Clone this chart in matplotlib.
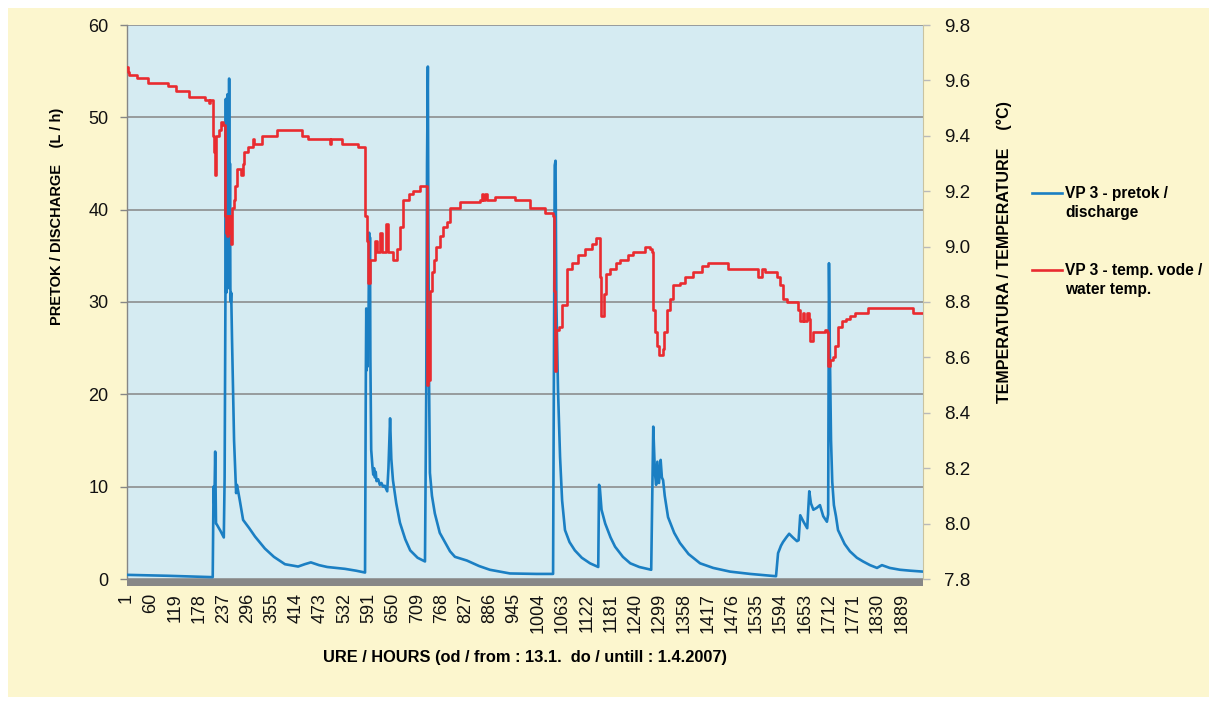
import matplotlib
matplotlib.use("Agg")
import matplotlib.pyplot as plt
from matplotlib.patches import Rectangle
from matplotlib.lines import Line2D

plt.rcParams['font.family'] = ['Liberation Sans', 'DejaVu Sans']

# discharge (L/h) as (hour, value) pairs
q_hours = [1, 100, 211, 213, 215, 217, 219, 221, 230, 238, 240, 242, 243, 244, 245,
           246, 247, 248, 249, 250, 251, 252, 253, 254, 255, 256, 258, 263, 268, 270,
           273, 277, 285, 300, 314, 338, 360, 387, 419, 435, 450, 470, 490, 533, 560,
           582, 584, 585, 586, 587, 588, 589, 590, 592, 593, 594, 595, 597, 600, 602,
           604, 606, 608, 610, 614, 618, 622, 626, 630, 636, 639, 643, 646, 650, 658,
           667, 680, 692, 710, 728, 731, 733, 735, 736, 738, 740, 745, 752, 764, 789,
           801, 830, 860, 886, 935, 1000, 1040, 1042, 1044, 1046, 1048, 1052, 1057, 1062,
           1069, 1080, 1093, 1110, 1130, 1150, 1152, 1154, 1158, 1167, 1180, 1191, 1210,
           1228, 1250, 1279, 1284, 1288, 1291, 1294, 1298, 1302, 1305, 1308, 1312, 1320,
           1335, 1349, 1370, 1398, 1430, 1471, 1520, 1583, 1588, 1595, 1600, 1608, 1615,
           1624, 1634, 1638, 1642, 1650, 1659, 1664, 1668, 1674, 1682, 1690, 1698, 1707,
           1710, 1712, 1714, 1717, 1720, 1724, 1729, 1734, 1750, 1763, 1780, 1795, 1812,
           1829, 1841, 1860, 1885, 1910, 1941]
q_values = [0.45, 0.35, 0.2, 10, 8, 13.8, 6.0, 5.9, 5.2, 4.5, 11, 31, 52, 31, 51,
            33, 52.5, 31.5, 50, 33, 54.2, 31.5, 45, 31.5, 30, 31, 26, 15, 9.3, 10.2,
            9.5, 8.5, 6.4, 5.5, 4.6, 3.3, 2.4, 1.6, 1.35, 1.6, 1.8, 1.5, 1.3, 1.1, 0.9,
            0.7, 22.6, 29.3, 22.6, 29, 23, 29, 25, 37.5, 31, 37, 24, 14, 12.2, 11.3,
            12.0, 11.0, 11.6, 10.6, 10.8, 10.2, 10.4, 10.0, 10.1, 9.5, 12, 17.4, 13, 10.7, 8.2,
            6.1, 4.3, 3.1, 2.3, 1.9, 20, 45, 55.5, 42, 21, 11.5, 9, 7.1, 5.0, 3.0,
            2.4, 2.0, 1.4, 1.0, 0.6, 0.55, 0.55, 22, 44.8, 45.3, 30, 20.5, 13.2, 8.5,
            5.3, 4.0, 3.1, 2.3, 1.7, 1.3, 10.2, 9.8, 7.5, 6.0, 4.5, 3.5, 2.4,
            1.7, 1.3, 1.0, 16.5, 11.5, 10.2, 12.7, 10.4, 12.9, 11, 10.7, 9, 6.7,
            5.0, 3.9, 2.7, 1.7, 1.2, 0.8, 0.55, 0.3, 2.8, 3.6, 4.0, 4.5, 4.9,
            4.5, 4.1, 4.2, 6.9, 6.2, 5.5, 9.5, 8.2, 7.5, 7.7, 8.0, 6.8, 6.2,
            7.0, 34.2, 25, 15, 10.5, 8.0, 6.8, 5.3, 3.8, 3.0, 2.3, 1.9, 1.5,
            1.2, 1.5, 1.2, 1.0, 0.9, 0.8]

# water temperature (deg C)
t_hours = [1, 4, 8, 27, 53, 102, 122, 153, 192, 202, 205, 211, 212, 214, 216, 218, 220,
           226, 232, 236, 240, 242, 244, 245, 247, 249, 251, 253, 255, 257, 262, 266,
           270, 280, 284, 288, 298, 308, 312, 330, 368, 428, 442, 496, 499, 525, 566,
           582, 586, 589, 594, 598, 606, 611, 618, 623, 632, 639, 649, 659, 667, 675,
           690, 700, 716, 732, 733, 734, 736, 738, 740, 745, 750, 755, 765, 773, 781,
           789, 813, 862, 866, 869, 875, 880, 899, 947, 984, 1020, 1041, 1042, 1044,
           1046, 1049, 1055, 1061, 1073, 1086, 1101, 1118, 1135, 1145, 1150, 1154, 1157,
           1163, 1169, 1179, 1193, 1203, 1223, 1235, 1264, 1275, 1280, 1284, 1288, 1293,
           1298, 1307, 1310, 1317, 1325, 1333, 1350, 1362, 1382, 1402, 1418, 1463, 1467,
           1528, 1540, 1548, 1556, 1577, 1585, 1593, 1600, 1609, 1625, 1637, 1642, 1648,
           1652, 1658, 1664, 1666, 1673, 1703, 1707, 1710, 1715, 1723, 1727, 1735, 1743,
           1753, 1763, 1775, 1808, 1914, 1917, 1941]
t_values = [9.65, 9.63, 9.62, 9.61, 9.59, 9.58, 9.56, 9.54, 9.53, 9.52, 9.53, 9.53, 9.40,
            9.34, 9.26, 9.34, 9.40, 9.42, 9.45, 9.44, 9.33, 9.11, 9.05, 9.11, 9.04, 9.11,
            9.05, 9.11, 9.01, 9.14, 9.17, 9.22, 9.28, 9.26, 9.30, 9.34, 9.36, 9.39, 9.37,
            9.40, 9.42, 9.40, 9.39, 9.37, 9.39, 9.37, 9.36, 9.11, 9.02, 8.87, 8.95, 8.95,
            9.02, 8.98, 9.05, 8.98, 9.08, 8.98, 8.95, 8.99, 9.07, 9.17, 9.19, 9.20, 9.22,
            9.22, 8.73, 8.50, 8.70, 8.52, 8.84, 8.91, 8.95, 9.00, 9.04, 9.07, 9.09, 9.14,
            9.16, 9.17, 9.19, 9.17, 9.19, 9.17, 9.18, 9.17, 9.14, 9.12, 9.11, 8.84, 8.55,
            8.70, 8.70, 8.71, 8.79, 8.92, 8.94, 8.97, 8.99, 9.01, 9.03, 9.03, 8.89, 8.75,
            8.83, 8.90, 8.92, 8.94, 8.95, 8.97, 8.98, 9.00, 8.99, 8.98, 8.77, 8.69, 8.64,
            8.61, 8.63, 8.69, 8.77, 8.81, 8.86, 8.87, 8.89, 8.91, 8.93, 8.94, 8.94, 8.92,
            8.92, 8.89, 8.92, 8.91, 8.91, 8.89, 8.86, 8.81, 8.80, 8.80, 8.77, 8.73, 8.76,
            8.73, 8.76, 8.74, 8.66, 8.69, 8.70, 8.69, 8.57, 8.59, 8.60, 8.64, 8.71, 8.73,
            8.74, 8.75, 8.76, 8.78, 8.78, 8.76, 8.76]

x_ticks = list(range(1, 1890, 59))
n_hours = 1941

blue = '#1B7FC3'
red = '#E92B30'
grid_col = '#868686'

fig = plt.figure(figsize=(12.17, 7.05), dpi=100, facecolor='white')
fig.patches.append(Rectangle((8 / 1217, 8 / 705), 1201 / 1217, 689 / 705,
                             transform=fig.transFigure, facecolor='#FCF6CE',
                             edgecolor='none', zorder=-10))

L, R, B, T = 126.5 / 1217, 923 / 1217, 1 - 579 / 705, 1 - 25 / 705
ax = fig.add_axes([L, B, R - L, T - B])
ax.set_facecolor('#D5EBF2')
# thick grey floor under the plot
fig.patches.append(Rectangle((L, B - 7 / 705), R - L, 7 / 705, transform=fig.transFigure,
                             facecolor='#878787', edgecolor='none', zorder=5))

ax.plot(q_hours, q_values, color=blue, lw=1.9, zorder=3, solid_joinstyle='round')
ax.set_xlim(1, n_hours)
ax.set_ylim(0, 60)
ax.set_yticks(range(0, 61, 10))
ax.set_xticks(x_ticks)
ax.set_xticklabels([str(t) for t in x_ticks], rotation=90, fontsize=13)
ax.tick_params(axis='x', length=0, pad=10, colors='#111111')
ax.tick_params(axis='y', length=5, width=1, color=grid_col, pad=8, labelsize=13,
               labelcolor='#111111')
ax.grid(axis='y', color=grid_col, lw=1.1)
ax.set_axisbelow(True)
for s in ['top', 'right', 'bottom']:
    ax.spines[s].set_visible(False)
ax.spines['left'].set_color(grid_col)
ax.spines['left'].set_linewidth(1.0)

ax2 = ax.twinx()
ax2.plot(t_hours, t_values, color=red, lw=1.9, drawstyle='steps-post', zorder=4)
ax2.set_ylim(7.8, 9.8)
ax2.set_yticks([7.8 + 0.2 * i for i in range(11)])
ax2.set_yticklabels(['%.1f' % (7.8 + 0.2 * i) for i in range(11)])
ax2.tick_params(axis='y', length=5, width=1, color='#B9B9B9', pad=10, labelsize=13.5,
                labelcolor='#111111')
for s in ['top', 'left', 'bottom']:
    ax2.spines[s].set_visible(False)
ax2.spines['right'].set_color('#C9C3A0')

ax.set_ylabel('PRETOK / DISCHARGE    (L / h)', fontsize=10.5, fontweight='bold')
ax.yaxis.set_label_coords(-0.079, 0.655)
ax2.set_ylabel('TEMPERATURA / TEMPERATURE    (°C)', fontsize=11.5, fontweight='bold',
               rotation=90)
ax2.yaxis.set_label_coords(1.0917, 0.59)
ax.set_xlabel('URE / HOURS (od / from : 13.1.  do / untill : 1.4.2007)', fontsize=11.8,
              fontweight='bold')
ax.xaxis.set_label_coords(0.5, -0.129)

# legend drawn beside the plot
for col, y, lines in [(blue, 193, ['VP 3 - pretok /', 'discharge']),
                      (red, 270, ['VP 3 - temp. vode /', 'water temp.'])]:
    fig.lines.append(Line2D([1032 / 1217, 1062 / 1217], [1 - y / 705, 1 - y / 705],
                            transform=fig.transFigure, color=col, lw=1.9))
    fig.text(1065 / 1217, 1 - y / 705, lines[0], fontsize=11.2, fontweight='bold',
             va='center', ha='left')
    fig.text(1065 / 1217, 1 - (y + 20) / 705, lines[1], fontsize=11.2,
             fontweight='bold', va='center', ha='left')

fig.savefig('out.png', dpi=100, facecolor=fig.get_facecolor())
